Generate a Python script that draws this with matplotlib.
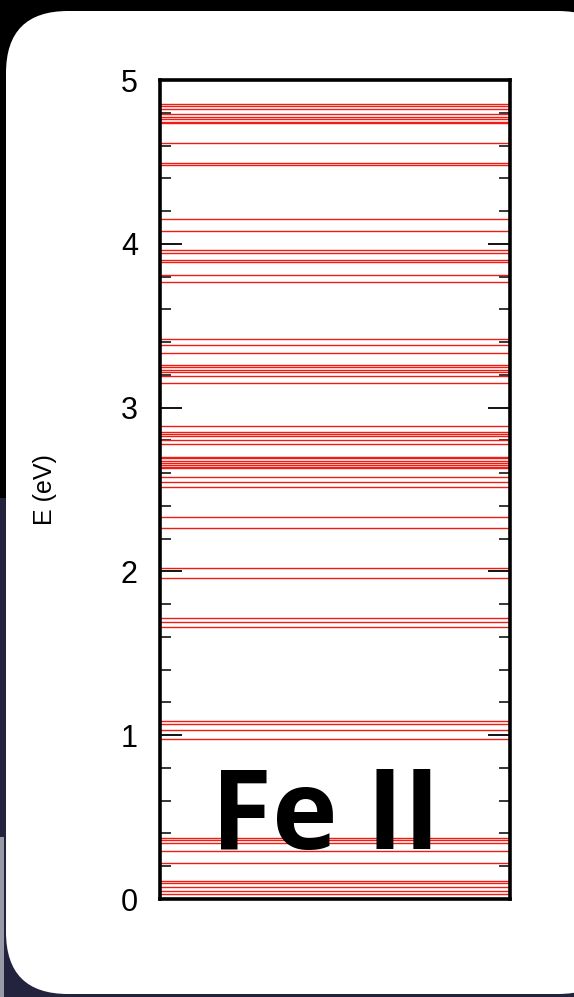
import matplotlib.pyplot as plt
from matplotlib.patches import FancyBboxPatch, Rectangle
from matplotlib.ticker import MultipleLocator

# energy levels of Fe II (eV)
levels = [
    0.031, 0.051, 0.072, 0.098, 0.112,
    0.220, 0.290, 0.340, 0.361, 0.373,
    0.976, 1.031, 1.070, 1.086,
    1.663, 1.689, 1.718,
    1.958, 2.021,
    2.268, 2.333,
    2.518, 2.543, 2.576, 2.631, 2.637, 2.647, 2.659, 2.676, 2.690, 2.700,
    2.775, 2.802, 2.824, 2.839, 2.848, 2.885,
    3.148, 3.195, 3.219, 3.232, 3.246, 3.262, 3.336, 3.384, 3.419,
    3.768, 3.812, 3.888, 3.902, 3.945, 3.963, 4.077, 4.149,
    4.483, 4.493, 4.617, 4.735, 4.741, 4.764, 4.772, 4.795, 4.821, 4.839, 4.851,
]
yticks = [0, 1, 2, 3, 4, 5]
ion_label = "Fe II"
ylabel = "E (eV)"

W, H = 574, 997
fig = plt.figure(figsize=(W / 100, H / 100), dpi=100)
fig.patch.set_facecolor("black")

# slide background: dark navy bottom area and white rounded card
fig.patches.append(Rectangle((0, 0), 1, 0.5, transform=fig.transFigure,
                             facecolor="#23233d", edgecolor="none", zorder=0))
fig.patches.append(Rectangle((0, 0), 4 / W, 0.16, transform=fig.transFigure,
                             facecolor="#9a9aa6", edgecolor="none", zorder=0))
card = FancyBboxPatch((6, 3), W + 40, H - 14, boxstyle="round,pad=0,rounding_size=62",
                      transform=None, facecolor="white", edgecolor="none", zorder=1)
fig.patches.append(card)

ax = fig.add_axes([160 / W, 1 - 899 / H, 350 / W, 819 / H])
ax.set_facecolor("white")
ax.set_zorder(2)

for e in levels:
    ax.axhline(e, color="#ee1c12", lw=1.0)

ax.set_ylim(0, 5)
ax.set_xlim(0, 1)
ax.set_xticks([])
ax.set_yticks(yticks)
ax.yaxis.set_minor_locator(MultipleLocator(0.2))
ax.tick_params(axis="y", which="both", direction="in", left=True, right=True,
               labelsize=22, pad=16)
ax.tick_params(axis="y", which="major", length=16, width=1.3)
ax.tick_params(axis="y", which="minor", length=8, width=1.1)
for lab in ax.get_yticklabels():
    lab.set_family("Liberation Sans")
for s in ax.spines.values():
    s.set_linewidth(2.6)

ax.set_ylabel(ylabel, fontsize=18, labelpad=46, family="Liberation Sans")

ax.text(0.474, 0.097, ion_label, transform=ax.transAxes, ha="center", va="center",
        fontsize=80, fontweight="bold", family="Open Sans", color="black")

fig.savefig("out.png", dpi=100, facecolor=fig.get_facecolor())
